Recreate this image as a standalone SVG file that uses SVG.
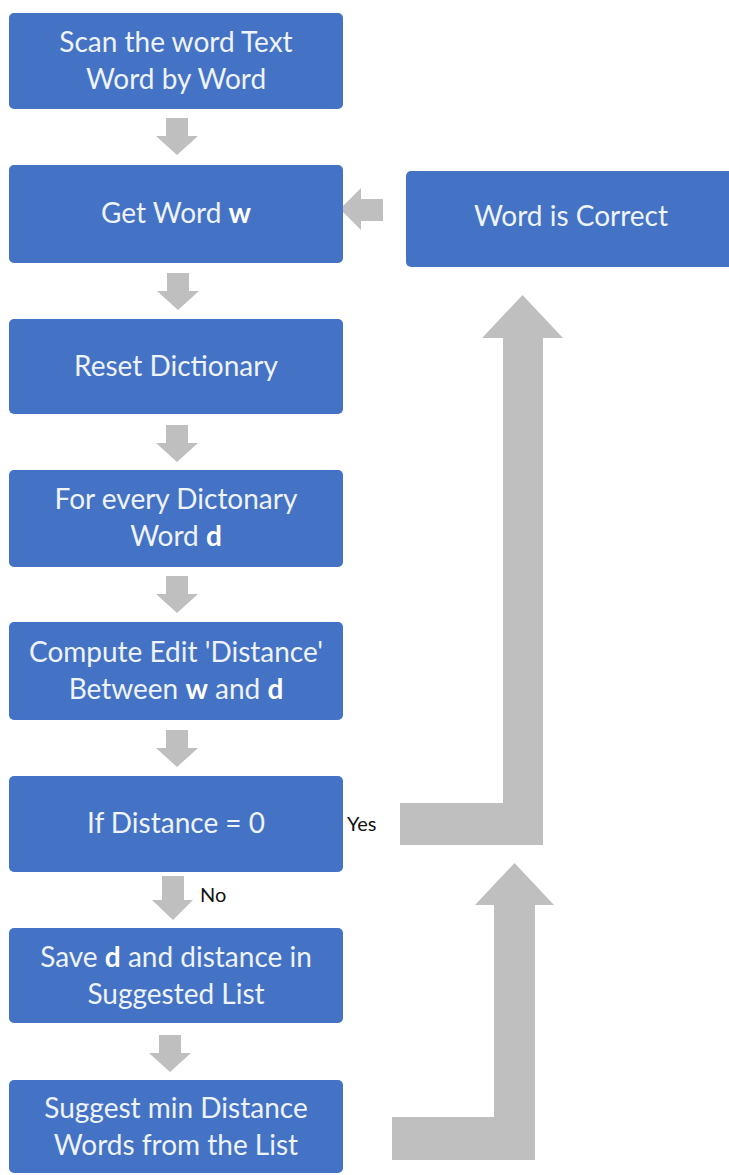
<svg xmlns="http://www.w3.org/2000/svg" width="729" height="1175" viewBox="0 0 729 1175">
  <style>
    .box { fill: #4472C4; }
    .lbl { font-family: Lato, "Open Sans", "Liberation Sans", sans-serif; font-size: 28px; fill: #eef3fc; text-anchor: middle; }
    .b { font-weight: bold; fill: #ffffff; }
    .arrow { fill: #BFBFBF; }
    .tag { font-family: Lato, "Liberation Sans", sans-serif; font-size: 20px; fill: #111111; }
  </style>
  <defs>
    <!-- block down-arrow, tip at origin -->
    <path id="down" d="M -11 -37 H 11 V -19 H 21 L 0 0 L -21 -19 H -11 Z"/>
  </defs>
  <rect width="729" height="1175" fill="#ffffff"/>

  <g id="connectors">
    <use href="#down" class="arrow" x="177" y="155"/>
    <use href="#down" class="arrow" x="178" y="310"/>
    <use href="#down" class="arrow" x="177" y="462"/>
    <use href="#down" class="arrow" x="177" y="613"/>
    <use href="#down" class="arrow" x="177" y="767"/>
    <path class="arrow" d="M 162 876 H 184 V 900 H 193 L 173 920 L 152 900 H 162 Z"/>
    <use href="#down" class="arrow" x="170" y="1072"/>
    <!-- back into "Get Word" -->
    <path class="arrow" d="M 383 199 V 221 H 361 V 230 L 340 209 L 361 188 V 199 Z"/>
    <!-- Yes branch to "Word is Correct" -->
    <path class="arrow" d="M 400 803 H 503 V 338 H 482 L 522.5 295 L 563 338 H 543 V 845 H 400 Z"/>
    <!-- return from suggestions -->
    <path class="arrow" d="M 392 1117 H 494 V 905 H 475 L 514.5 863 L 554 905 H 535 V 1160 H 392 Z"/>
    <text class="tag" x="347" y="831">Yes</text>
    <text class="tag" x="200" y="902">No</text>
  </g>

  <g id="scan">
    <rect class="box" x="9" y="13" width="334" height="96" rx="5"/>
    <text class="lbl" x="176" y="52">Scan the word Text</text>
    <text class="lbl" x="176" y="89">Word by Word</text>
  </g>
  <g id="get-word">
    <rect class="box" x="9" y="165" width="334" height="98" rx="5"/>
    <text class="lbl" x="176" y="223">Get Word <tspan class="b">w</tspan></text>
  </g>
  <g id="word-correct">
    <rect class="box" x="406" y="171" width="328" height="96" rx="5"/>
    <text class="lbl" x="571" y="226">Word is Correct</text>
  </g>
  <g id="reset">
    <rect class="box" x="9" y="319" width="334" height="95" rx="5"/>
    <text class="lbl" x="176" y="376">Reset Dictionary</text>
  </g>
  <g id="for-every">
    <rect class="box" x="9" y="470" width="334" height="97" rx="5"/>
    <text class="lbl" x="176" y="509">For every Dictonary</text>
    <text class="lbl" x="176" y="546">Word <tspan class="b">d</tspan></text>
  </g>
  <g id="compute">
    <rect class="box" x="9" y="622" width="334" height="98" rx="5"/>
    <text class="lbl" x="176" y="662">Compute Edit 'Distance'</text>
    <text class="lbl" x="176" y="699">Between <tspan class="b">w</tspan> and <tspan class="b">d</tspan></text>
  </g>
  <g id="if-zero">
    <rect class="box" x="9" y="776" width="334" height="96" rx="5"/>
    <text class="lbl" x="176" y="833">If Distance = 0</text>
  </g>
  <g id="save">
    <rect class="box" x="9" y="928" width="334" height="95" rx="5"/>
    <text class="lbl" x="176" y="967">Save <tspan class="b">d</tspan> and distance in</text>
    <text class="lbl" x="176" y="1004">Suggested List</text>
  </g>
  <g id="suggest">
    <rect class="box" x="9" y="1080" width="334" height="93" rx="5"/>
    <text class="lbl" x="176" y="1118">Suggest min Distance</text>
    <text class="lbl" x="176" y="1155">Words from the List</text>
  </g>
</svg>
